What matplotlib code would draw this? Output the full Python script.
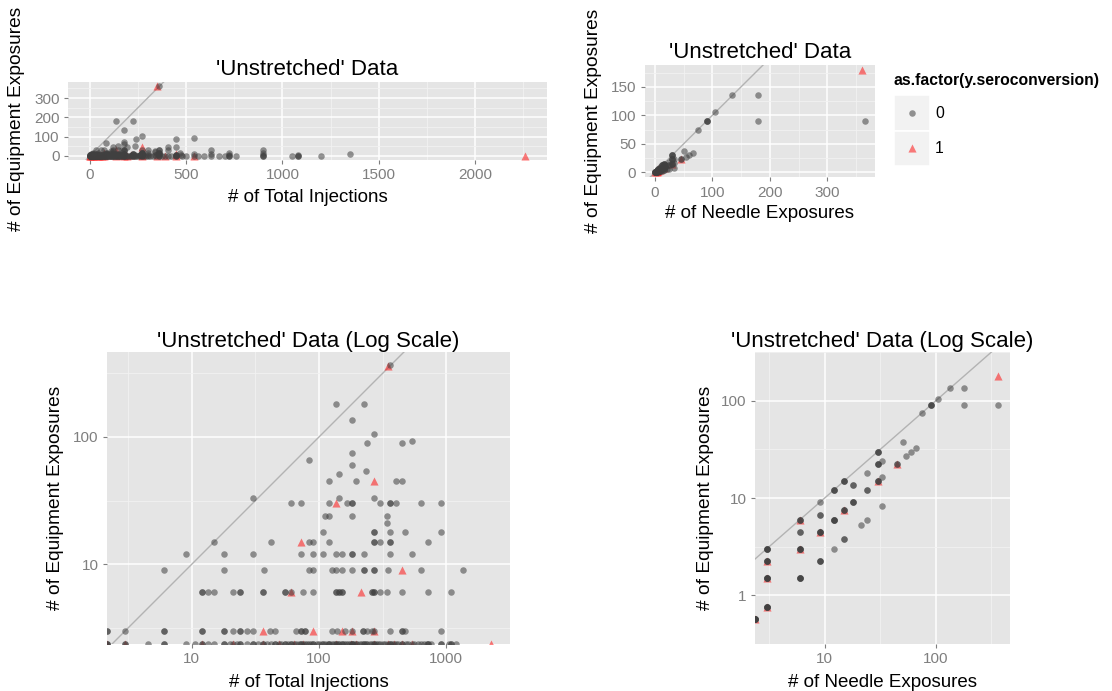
import numpy as np
import matplotlib
matplotlib.use('Agg')
import matplotlib.pyplot as plt
from matplotlib.patches import Rectangle

plt.rcParams['font.family'] = ['Liberation Sans', 'DejaVu Sans']

W, H = 1112, 691

#--- Data ---------------------------------------------------------------------
# total injections vs equipment exposures, grouped by equipment exposures
# (equip value, [total injections ...]) for seroconversion = 0
inj_rows_neg = [
    (0, [0, 0, 0, 3, 3, 4.5, 6, 6, 9, 10.5, 12, 12, 13.5, 15, 18, 18, 20, 21, 22.5, 24, 24,
         27, 30, 30, 33, 36, 36, 39, 42, 45, 45, 48, 50, 54, 54, 57, 60, 60, 63, 66, 70,
         72, 72, 75, 78, 81, 84, 87, 90, 90, 96, 100, 105, 108, 112, 117, 120, 120, 126,
         130, 135, 135, 140, 144, 150, 150, 156, 162, 168, 175, 180, 180, 180, 189, 195,
         200, 210, 216, 225, 225, 234, 240, 250, 260, 270, 270, 280, 290, 300, 315, 330,
         345, 360, 360, 375, 390, 405, 420, 450, 450, 480, 500, 540, 560, 594, 630, 672,
         700, 720, 720, 760, 900, 900, 1050, 1080, 1080, 1200]),
    (3, [0, 0, 3, 6, 6, 12, 12, 18, 18, 21, 24, 24, 27, 30, 41, 45, 66, 72, 72, 77, 78,
         126, 138, 161, 180, 220, 220, 237, 261, 272, 360, 450, 450, 476, 900]),
    (6, [12, 12, 13.5, 15, 21, 24, 24, 36, 36, 54, 54, 60, 75, 90, 135, 135, 144, 144,
         150, 150, 260, 260, 270, 270, 300, 340, 450, 720, 1080]),
    (9, [6, 18, 37, 84, 90, 126, 135, 150, 180, 225, 225, 270, 270, 350, 630, 1350]),
    (12, [9, 18, 30, 72, 90, 108, 135, 150, 180, 180, 225, 360, 540]),
    (15, [15, 42, 84, 90, 120, 270, 270, 300, 360, 360, 720]),
    (18, [108, 270, 270, 360, 470, 900]),
    (21, [340]),
    (24, [112, 120, 180, 340]),
    (30, [60, 72, 120, 166, 180, 180, 300, 360, 360, 405, 630, 900]),
    (33, [30, 144, 270]),
    (45, [120, 195, 405, 450]),
    (51, [144]),
    (54, [234]),
    (60, [180]),
    (66, [84]),
    (75, [180]),
    (90, [240, 450]),
    (93, [540]),
    (105, [270]),
    (135, [180]),
    (180, [135, 225]),
    (365, [360]),
]
# seroconversion = 1
inj_rows_pos = [
    (0, [0, 3, 12, 21, 36, 48, 63, 75, 135, 177, 195, 270, 350, 390, 450, 540, 2260]),
    (3, [36, 90, 150, 180, 272]),
    (6, [60, 215]),
    (9, [450]),
    (15, [72]),
    (30, [135]),
    (45, [270]),
    (360, [350]),
]

# needle exposures vs equipment exposures
needle_neg = [365, 180, 180, 135, 105, 90, 90, 90, 75, 51, 66, 60, 54, 45, 45, 30, 30, 30,
              30, 30, 30, 33, 24, 33, 30, 30, 30, 15, 15, 15, 18, 18, 24, 24, 12, 12, 12,
              9, 18, 18, 18, 33, 15, 15, 15, 9, 9, 6, 6, 6, 12, 12, 12, 12, 24, 21, 6, 6,
              9, 9, 9, 9, 15, 15, 12, 6, 6, 6, 6, 3, 3, 3, 3, 3, 3, 3, 3, 9, 9, 9,
              3, 3, 3, 3, 3, 6, 6, 6, 6, 3, 3, 3, 3, 3, 0, 0, 0, 0, 0, 0]
equip_neg = [90, 135, 90, 135, 105, 90, 90, 90, 75, 38, 33, 30, 27, 22.5, 22.5, 30, 30, 30,
             22.5, 22.5, 22.5, 24, 18, 16.5, 15, 15, 15, 15, 15, 15, 13.5, 13.5, 12, 12, 12,
             12, 12, 9, 9, 9, 9, 8.25, 7.5, 7.5, 7.5, 6.75, 6.75, 6, 6, 6, 6, 6, 6, 6, 6,
             5.25, 4.5, 4.5, 4.5, 4.5, 4.5, 4.5, 3.75, 3.75, 3, 3, 3, 3, 3, 3, 3, 3, 3,
             2.25, 2.25, 2.25, 2.25, 2.25, 2.25, 2.25, 1.5, 1.5, 1.5, 1.5, 1.5, 1.5, 1.5,
             1.5, 1.5, 0.75, 0.75, 0.75, 0.75, 0.75, 0, 0, 0, 0, 0, 0]
needle_pos = [360, 45, 30, 15, 6, 9, 6, 3, 3, 3, 0]
equip_pos = [180, 22.5, 15, 7.5, 6, 4.5, 3, 2.25, 1.5, 0.75, 0]

sero_labels = ['0', '1']
legend_title = 'as.factor(y.seroconversion)'

p1_xticks = [0, 500, 1000, 1500, 2000]
p1_yticks = [0, 100, 200, 300]
p2_xticks = [0, 100, 200, 300]
p2_yticks = [0, 50, 100, 150]
p3_xticks = [10, 100, 1000]
p3_yticks = [10, 100]
p4_xticks = [10, 100]
p4_yticks = [1, 10, 100]

# point styles
NEG = dict(s=22, marker='o', c='#404040', alpha=0.55, lw=0)
POS = dict(s=34, marker='^', c='red', alpha=0.5, lw=0)


def unpack(rows):
    xs, ys = [], []
    for yv, xv in rows:
        xs += xv
        ys += [yv] * len(xv)
    return np.array(xs, float), np.array(ys, float)


inj_x0, inj_y0 = unpack(inj_rows_neg)
inj_x1, inj_y1 = unpack(inj_rows_pos)
ndl_x0, ndl_y0 = np.array(needle_neg, float), np.array(equip_neg, float)
ndl_x1, ndl_y1 = np.array(needle_pos, float), np.array(equip_pos, float)

#--- Helpers ------------------------------------------------------------------

def box(l, t, r, b):
    return [l / W, 1 - b / H, (r - l) / W, (b - t) / H]


def lin_lim(v):
    lo, hi = np.min(v), np.max(v)
    d = (hi - lo) * 0.05
    return lo - d, hi + d


def log_lim(v):
    pos = v[v > 0]
    lo, hi = np.log10(pos.min()), np.log10(pos.max())
    d = (hi - lo) * 0.05
    return 10 ** (lo - d), 10 ** (hi + d)


def style(ax, xt, yt, xminor, yminor):
    ax.set_facecolor('#E5E5E5')
    for s in ax.spines.values():
        s.set_visible(False)
    ax.set_xticks(xt)
    ax.set_yticks(yt)
    ax.set_xticklabels([str(t) for t in xt])
    ax.set_yticklabels([str(t) for t in yt])
    ax.set_xticks(xminor, minor=True)
    ax.set_yticks(yminor, minor=True)
    ax.set_xticklabels([], minor=True)
    ax.set_yticklabels([], minor=True)
    ax.grid(which='major', color='white', lw=1.1)
    ax.grid(which='minor', color='#F2F2F2', lw=0.6)
    ax.set_axisbelow(True)
    ax.tick_params(which='major', length=3, width=0.8, color='#7F7F7F',
                   labelcolor='#7F7F7F', labelsize=11, pad=3)
    ax.tick_params(which='minor', length=0)


def draw_points(ax, x0, y0, x1, y1):
    ax.axline((1, 1), (10, 10), color='#B3B3B3', lw=1.0, zorder=1.5)
    ax.scatter(x1, y1, zorder=2, **POS)
    ax.scatter(x0, y0, zorder=3, **NEG)


def ftext(x, y, s, **kw):
    fig.text(x / W, 1 - y / H, s, **kw)


fig = plt.figure(figsize=(W / 100, H / 100), dpi=100)

#--- Linear panels ------------------------------------------------------------
ax1 = fig.add_axes(box(68, 82, 547, 159.5))
draw_points(ax1, inj_x0, inj_y0, inj_x1, inj_y1)
allx = np.concatenate([inj_x0, inj_x1])
ally = np.concatenate([inj_y0, inj_y1])
ax1.set_xlim(lin_lim(allx))
ax1.set_ylim(lin_lim(ally))
style(ax1, p1_xticks, p1_yticks, [250, 750, 1250, 1750, 2250], [50, 150, 250, 350])

ax2 = fig.add_axes(box(644.5, 64.6, 875, 177.4))
draw_points(ax2, ndl_x0, ndl_y0, ndl_x1, ndl_y1)
bx = np.concatenate([ndl_x0, ndl_x1])
by = np.concatenate([ndl_y0, ndl_y1])
ax2.set_xlim(lin_lim(bx))
ax2.set_ylim(lin_lim(by))
style(ax2, p2_xticks, p2_yticks, [50, 150, 250, 350], [25, 75, 125, 175])

#--- Log panels (zeros sit on the panel edge) --------------------------------
ax3 = fig.add_axes(box(107, 352, 510, 644))
xl, yl = log_lim(allx), log_lim(ally)
edge = lambda v, lim: np.where(v > 0, v, lim[0])
draw_points(ax3, edge(inj_x0, xl), edge(inj_y0, yl), edge(inj_x1, xl), edge(inj_y1, yl))
ax3.set_xscale('log')
ax3.set_yscale('log')
ax3.set_xlim(xl)
ax3.set_ylim(yl)
style(ax3, p3_xticks, p3_yticks, [10 ** 0.5, 10 ** 1.5, 10 ** 2.5, 10 ** 3.5],
      [10 ** 0.5, 10 ** 1.5, 10 ** 2.5])

ax4 = fig.add_axes(box(755, 352, 1010, 644))
xl4, yl4 = log_lim(bx), log_lim(by)
draw_points(ax4, edge(ndl_x0, xl4), edge(ndl_y0, yl4), edge(ndl_x1, xl4), edge(ndl_y1, yl4))
ax4.set_xscale('log')
ax4.set_yscale('log')
ax4.set_xlim(xl4)
ax4.set_ylim(yl4)
style(ax4, p4_xticks, p4_yticks, [10 ** 0.5, 10 ** 1.5, 10 ** 2.5],
      [10 ** -0.5, 10 ** 0.5, 10 ** 1.5, 10 ** 2.5])

#--- Titles and axis labels ---------------------------------------------------
ttl = "'Unstretched' Data"
ttl_log = "'Unstretched' Data (Log Scale)"
ylab = '# of Equipment Exposures'
kw = dict(ha='center', va='baseline', color='black')
ftext(307.5, 75, ttl, fontsize=16, **kw)
ftext(759.7, 58.3, ttl, fontsize=16, **kw)
ftext(308.5, 346.7, ttl_log, fontsize=16, **kw)
ftext(882.5, 346.7, ttl_log, fontsize=16, **kw)
ftext(307.5, 201.7, '# of Total Injections', fontsize=13.5, **kw)
ftext(759.7, 218.3, '# of Needle Exposures', fontsize=13.5, **kw)
ftext(308.5, 686.7, '# of Total Injections', fontsize=13.5, **kw)
ftext(882.5, 686.7, '# of Needle Exposures', fontsize=13.5, **kw)
rk = dict(ha='center', va='center', rotation=90, fontsize=13.8)
ftext(17, 119, ylab, **rk)
ftext(594, 121, ylab, **rk)
ftext(56, 498, ylab, **rk)
ftext(705, 498, ylab, **rk)

#--- Legend -------------------------------------------------------------------
lg = fig.add_axes([0, 0, 1, 1], zorder=5)
lg.set_xlim(0, W)
lg.set_ylim(H, 0)
lg.axis('off')
lg.text(894, 80, legend_title, fontsize=11.3, fontweight='bold', va='center', ha='left')
for i, lab in enumerate(sero_labels):
    top = 95 + i * 35.5
    lg.add_patch(Rectangle((894, top), 35.5, 35.5, facecolor='#F2F2F2',
                           edgecolor='white', lw=1.2))
    lg.text(935, top + 18, lab, fontsize=11.3, va='center', ha='left')
lg.scatter([911.7], [112.7], **NEG)
lg.scatter([911.7], [148.2], **POS)

plt.savefig('out.png', dpi=100)
